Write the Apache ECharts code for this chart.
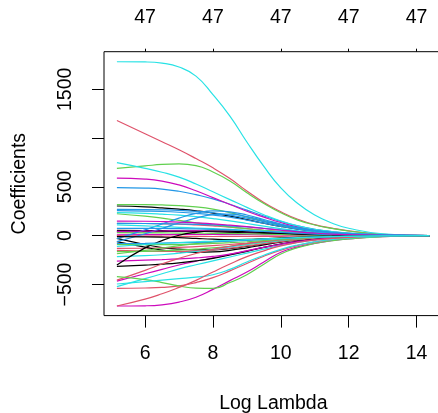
<!DOCTYPE html>
<html>
<head>
<meta charset="utf-8">
<script src="https://cdn.jsdelivr.net/npm/echarts@6/dist/echarts.min.js"></script>
<style>html,body{margin:0;padding:0;background:#fff}#c{width:438px;height:413px}</style>
</head>
<body>
<div id="c"></div>
<script>
// Log Lambda sample positions
const logLambda = [5.17, 6, 6.5, 7, 7.5, 8, 8.5, 9, 9.5, 10, 10.5, 11, 11.5, 12, 13, 14.38];
// bottom axis ticks and top axis labels (number of nonzero coefficients)
const xTicks = [6, 8, 10, 12, 14];
const topLabels = ['47', '47', '47', '47', '47'];
const yTicks = [-500, 0, 500, 1000, 1500];
const yLabels = [-500, 0, 500, 1500];

// coefficient paths grouped by colour
const blackPaths = [
  [304, 295, 285, 272, 255, 232, 200, 165, 128, 95, 67, 45, 30, 19, 5, 0],
  [55, 53, 51, 49, 46, 42, 37, 32, 26, 20, 14, 10, 6, 4, 1, 0],
  [40, 42, 43, 44, 44, 43, 40, 35, 29, 22, 16, 11, 7, 4, 1, 0],
  [-27, -90, -122, -138, -145, -145, -132, -110, -85, -60, -41, -27, -17, -10, -3, 0],
  [-60, -118, -148, -163, -170, -166, -150, -124, -94, -66, -45, -30, -19, -12, -3, 0],
  [-315, -302, -292, -278, -258, -232, -198, -160, -120, -85, -58, -38, -25, -15, -4, 0],
  [-300, -125, -50, 5, 35, 48, 46, 40, 32, 24, 17, 11, 7, 4, 1, 0],
  [-10, -12, -15, -20, -28, -36, -40, -38, -32, -24, -17, -11, -7, -4, -1, 0]
];
const redPaths = [
  [1180, 1045, 963, 880, 790, 695, 585, 458, 340, 245, 168, 113, 78, 50, 15, 0],
  [127, 125, 122, 118, 110, 100, 88, 72, 56, 42, 30, 20, 13, 8, 2, 0],
  [0, -3, -5, -6, -7, -8, -8, -8, -7, -6, -4, -3, -2, -1, 0, 0],
  [-130, -128, -125, -120, -112, -102, -90, -75, -58, -43, -30, -20, -13, -8, -2, 0],
  [-150, -158, -160, -160, -155, -145, -128, -105, -82, -60, -42, -28, -18, -11, -3, 0],
  [-540, -536, -530, -515, -480, -430, -360, -285, -210, -148, -100, -65, -42, -27, -8, 0],
  [-455, -355, -290, -232, -182, -140, -108, -82, -61, -44, -30, -20, -13, -8, -2, 0],
  [-720, -650, -595, -530, -458, -372, -290, -215, -155, -105, -70, -45, -29, -18, -5, 0]
];
const greenPaths = [
  [690, 715, 730, 735, 718, 652, 560, 440, 330, 235, 160, 110, 75, 48, 15, 0],
  [318, 318, 315, 308, 295, 272, 236, 192, 147, 106, 73, 49, 32, 20, 6, 0],
  [225, 200, 180, 156, 132, 110, 90, 71, 55, 41, 29, 19, 12, 8, 2, 0],
  [30, 29, 28, 27, 26, 24, 22, 19, 16, 12, 9, 6, 4, 2, 1, 0],
  [-164, -160, -155, -148, -138, -125, -108, -88, -68, -50, -35, -23, -15, -9, -2, 0],
  [-185, -150, -126, -102, -82, -66, -53, -42, -33, -25, -18, -12, -8, -5, -1, 0],
  [-420, -450, -480, -515, -538, -540, -480, -400, -292, -188, -122, -80, -52, -33, -10, 0],
  [-90, -92, -92, -90, -86, -80, -72, -62, -50, -38, -27, -18, -11, -7, -2, 0]
];
const bluePaths = [
  [493, 488, 478, 455, 420, 378, 322, 262, 202, 146, 100, 66, 43, 27, 8, 0],
  [270, 268, 265, 260, 250, 235, 210, 180, 145, 110, 78, 52, 34, 22, 6, 0],
  [256, 252, 248, 240, 228, 212, 190, 160, 128, 95, 67, 45, 29, 18, 5, 0],
  [-30, 60, 120, 180, 228, 255, 245, 212, 166, 120, 82, 55, 35, 22, 6, 0],
  [-61, 20, 75, 130, 180, 215, 220, 196, 156, 113, 78, 52, 33, 21, 6, 0],
  [126, 125, 123, 120, 116, 110, 101, 90, 76, 60, 44, 30, 19, 12, 3, 0],
  [76, 75, 74, 72, 69, 65, 59, 52, 43, 34, 25, 17, 11, 7, 2, 0],
  [-80, -78, -75, -72, -68, -62, -55, -47, -38, -29, -21, -14, -9, -5, -1, 0]
];
const cyanPaths = [
  [1782, 1780, 1768, 1728, 1635, 1445, 1225, 960, 710, 490, 330, 212, 130, 76, 20, 1],
  [748, 690, 650, 600, 530, 450, 370, 290, 215, 150, 100, 65, 42, 27, 8, 0],
  [236, 228, 220, 210, 195, 175, 152, 125, 98, 72, 50, 34, 22, 14, 4, 0],
  [110, 100, 93, 86, 79, 72, 64, 55, 46, 36, 27, 18, 12, 7, 2, 0],
  [-215, -205, -195, -180, -162, -140, -115, -90, -68, -48, -33, -22, -14, -9, -2, 0],
  [-522, -440, -390, -340, -298, -258, -218, -178, -138, -100, -68, -45, -29, -18, -5, 0],
  [-495, -470, -455, -440, -425, -400, -345, -270, -200, -140, -95, -62, -40, -25, -7, 0],
  [-110, -90, -80, -70, -62, -55, -47, -40, -33, -27, -20, -15, -10, -7, -2, 0]
];
const magentaPaths = [
  [590, 580, 560, 520, 460, 390, 320, 250, 190, 135, 90, 60, 40, 25, 8, 0],
  [8, 10, 11, 12, 12, 12, 11, 10, 9, 7, 5, 4, 3, 2, 0, 0],
  [-465, -390, -345, -300, -262, -228, -192, -155, -118, -85, -58, -38, -25, -15, -4, 0],
  [-720, -718, -708, -680, -630, -550, -460, -372, -270, -170, -115, -78, -50, -32, -10, 0],
  [45, 47, 48, 50, 50, 48, 45, 40, 34, 28, 21, 15, 10, 6, 2, 0],
  [-260, -250, -245, -238, -228, -212, -188, -155, -120, -88, -60, -40, -26, -16, -4, 0],
  [150, 148, 145, 140, 132, 122, 108, 92, 74, 56, 40, 27, 17, 11, 3, 0]
];

const groups = [
  ['#000000', blackPaths], ['#DF536B', redPaths], ['#61D04F', greenPaths],
  ['#2297E6', bluePaths], ['#28E2E5', cyanPaths], ['#CD0BBC', magentaPaths]
];
// interleave like matplot column order
const series = [];
for (let k = 0; k < 8; k++) {
  groups.forEach(([color, paths]) => {
    if (k < paths.length) {
      series.push({
        type: 'line', showSymbol: false, smooth: 0.5,
        silent: true, animation: false, xAxisIndex: 0, yAxisIndex: 0,
        lineStyle: { width: 1.2, color: color }, itemStyle: { color: color },
        data: logLambda.map((x, i) => [x, paths[k][i]])
      });
    }
  });
}

const FONT = 'Liberation Sans, Arial, Helvetica, sans-serif';
const FS = 19.5;
const chart = echarts.init(document.getElementById('c'), null, { renderer: 'canvas' });
chart.setOption({
  animation: false,
  backgroundColor: '#fff',
  grid: { left: 104, right: -4.7, top: 51.7, bottom: 97.4, show: true, borderColor: '#000', borderWidth: 1,
    containLabel: false, outerBoundsMode: 'none' },
  xAxis: [{
    type: 'value', position: 'bottom', min: 4.79, max: 14.77,
    axisLine: { show: false, onZero: false }, splitLine: { show: false },
    axisTick: { show: true, customValues: xTicks, length: 12, lineStyle: { color: '#000', width: 1 } },
    axisLabel: { customValues: xTicks, color: '#000', fontSize: FS, fontFamily: FONT, margin: 28 },
    name: 'Log Lambda', nameLocation: 'middle', nameGap: 78,
    nameTextStyle: { color: '#000', fontSize: FS, fontFamily: FONT }
  }, {
    type: 'value', position: 'top', min: 4.79, max: 14.77,
    axisLine: { show: false, onZero: false }, splitLine: { show: false },
    axisTick: { show: true, customValues: xTicks, length: 3, lineStyle: { color: '#000', width: 1 } },
    axisLabel: { customValues: xTicks, color: '#000', fontSize: FS, fontFamily: FONT, margin: 24,
      formatter: v => topLabels[xTicks.indexOf(v)] }
  }],
  yAxis: [{
    type: 'value', min: -818.6, max: 1885,
    axisLine: { show: false, onZero: false }, splitLine: { show: false },
    axisTick: { show: true, customValues: yTicks, length: 12, lineStyle: { color: '#000', width: 1 } },
    axisLabel: { customValues: yLabels, rotate: 90, color: '#000', fontSize: FS, fontFamily: FONT, margin: 28,
      formatter: v => String(v).replace('-', '\u2212') },
    name: 'Coefficients', nameLocation: 'middle', nameGap: 74, nameRotate: 90,
    nameTextStyle: { color: '#000', fontSize: FS, fontFamily: FONT }
  }],
  series: series
});
</script>
</body>
</html>
